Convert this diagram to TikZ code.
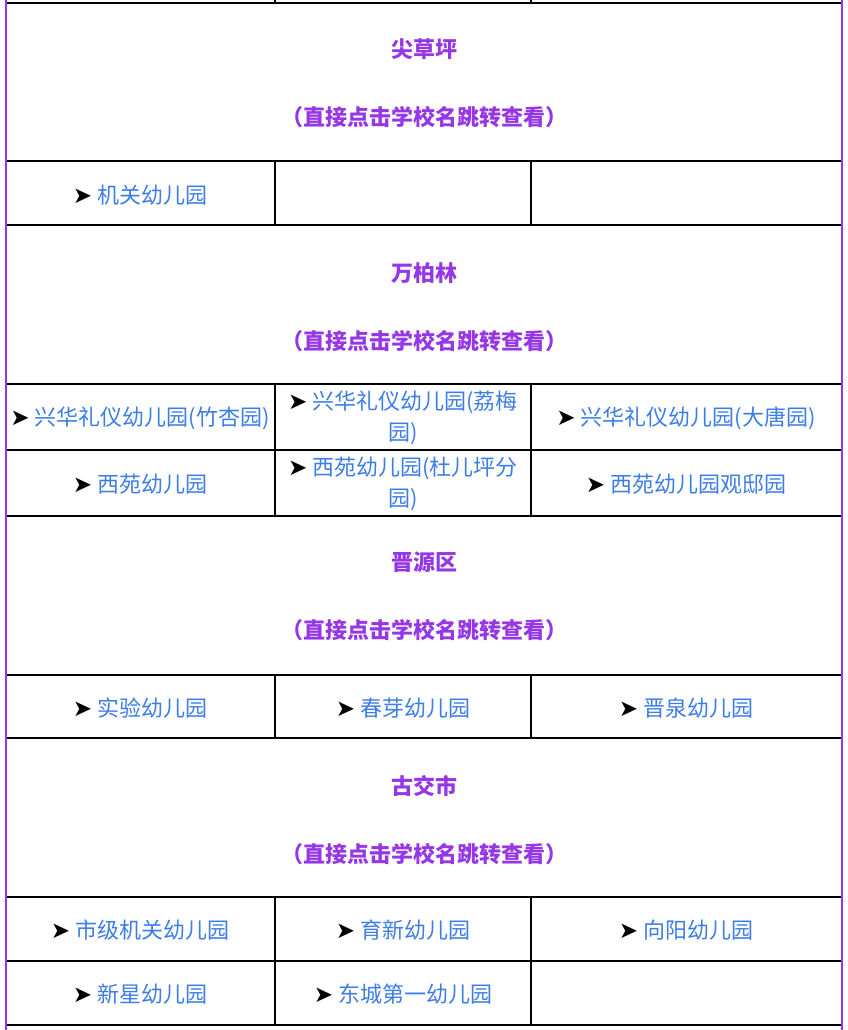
\documentclass[tikz,border=0pt]{standalone}
\usepackage{fontspec}
\setmainfont{Noto Sans CJK SC}
\newfontfamily\arr{DejaVu Sans}
\definecolor{hd}{RGB}{150,55,230}
\definecolor{lk}{RGB}{60,125,230}
\tikzset{
 hdr/.style={text=hd,font=\fontsize{22}{26}\selectfont\bfseries,inner sep=0},
 lnk/.style={text=lk,font=\fontsize{22}{31}\selectfont,inner sep=0,align=center},
 gl/.style={line width=2pt,black},
}
\newcommand{\ar}{{\color{black}\arr\fontsize{23}{26}\selectfont ➤}\hspace{5pt}}
\begin{document}
\begin{tikzpicture}[x=1pt,y=-1pt]
\useasboundingbox (0,0) rectangle (848,1030);
\fill[white] (0,0) rectangle (848,1030);
% horizontal lines
\foreach \y in {3,161,225,384,450,516,675,738,897,961,1025}
  \draw[gl] (6,\y) -- (842,\y);
% vertical lines
\foreach \a/\b in {0/3,161/225,384/516,675/738,897/1025}{
  \draw[gl] (275,\a) -- (275,\b);
  \draw[gl] (531,\a) -- (531,\b);}
\draw[line width=2pt,hd] (6,0) -- (6,1030);
\draw[line width=2pt,hd] (842,0) -- (842,1030);
% headers
\foreach \y/\t in {49/尖草坪,273/万柏林,562/晋源区,786/古交市}{
  \node[hdr] (h\y) at (424,\y) {\t};
  \node[hdr] (s\y) at (424,\y+68) {（直接点击学校名跳转查看）};}
% cells
\node[lnk] (a1) at (140,195) {\ar 机关幼儿园};
\node[lnk] (b1) at (140,418) {\ar 兴华礼仪幼儿园(竹杏园)};
\node[lnk,text width=250] (b2) at (403,418) {\ar 兴华礼仪幼儿园(荔梅\\园)};
\node[lnk] (b3) at (686,418) {\ar 兴华礼仪幼儿园(大唐园)};
\node[lnk] (c1) at (140,484) {\ar 西苑幼儿园};
\node[lnk,text width=250] (c2) at (403,484) {\ar 西苑幼儿园(杜儿坪分\\园)};
\node[lnk] (c3) at (686,484) {\ar 西苑幼儿园观邸园};
\node[lnk] (d1) at (140,708) {\ar 实验幼儿园};
\node[lnk] (d2) at (403,708) {\ar 春芽幼儿园};
\node[lnk] (d3) at (686,708) {\ar 晋泉幼儿园};
\node[lnk] (e1) at (140,930) {\ar 市级机关幼儿园};
\node[lnk] (e2) at (403,930) {\ar 育新幼儿园};
\node[lnk] (e3) at (686,930) {\ar 向阳幼儿园};
\node[lnk] (f1) at (140,994) {\ar 新星幼儿园};
\node[lnk] (f2) at (403,994) {\ar 东城第一幼儿园};
\end{tikzpicture}
\end{document}
